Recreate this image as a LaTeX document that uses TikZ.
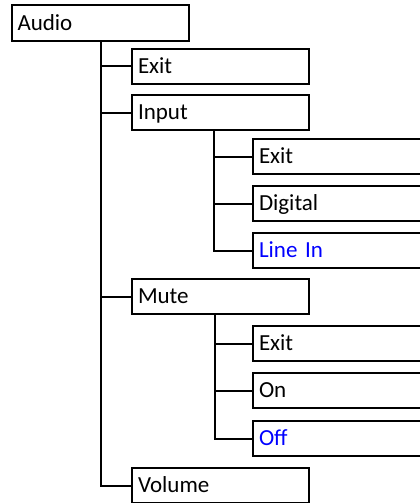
\documentclass[tikz,border=0pt]{standalone}
\usepackage{fontspec}
\setmainfont{Carlito}
\begin{document}
\begin{tikzpicture}[x=1pt,y=-1pt,
  menubox/.style={draw=black, line width=2pt, fill=white, anchor=north west,
    minimum height=35pt, inner xsep=6pt, inner ysep=0pt, align=left,
    text height=14.8pt, text depth=0pt,
    font=\fontsize{23pt}{27pt}\selectfont},
  lvlone/.style={menubox, minimum width=177pt, text width=165pt},
  lvltwo/.style={menubox, minimum width=200pt, text width=188pt},
  sel/.style={text=blue},
  conn/.style={draw=black, line width=2pt}]
\useasboundingbox (0,0) rectangle (420,503);
\clip (0,0) rectangle (420,503);
\fill[white] (0,0) rectangle (420,503);
% root
\node[lvlone, minimum height=36pt] (audio) at (10.5,4) {Audio};
% level 1
\node[lvlone] (exit1) at (131,48) {Exit};
\node[lvlone] (input) at (131,94) {Input};
\node[lvlone] (mute) at (131,278) {Mute};
\node[lvlone] (volume) at (131,467) {Volume};
% level 2 under Input
\node[lvltwo] (exit2) at (252,138) {Exit};
\node[lvltwo] (digital) at (252,185) {Digital};
\node[lvltwo, sel] (linein) at (252,232) {Line In};
% level 2 under Mute
\node[lvltwo] (exit3) at (252,325) {Exit};
\node[lvltwo] (on) at (252,372) {On};
\node[lvltwo, sel] (off) at (252,420) {Off};
% trunks
\coordinate (t0) at ([xshift=90.2pt]audio.south west);
\coordinate (t1) at ([xshift=83pt]input.south west);
\coordinate (t2) at ([xshift=84pt]mute.south west);
\draw[conn] (t0) |- (volume.west);
\draw[conn] (t0 |- exit1.west) -- (exit1.west);
\draw[conn] (t0 |- input.west) -- (input.west);
\draw[conn] (t0 |- mute.west) -- (mute.west);
\draw[conn] (t1) |- (linein.west);
\draw[conn] (t1 |- exit2.west) -- (exit2.west);
\draw[conn] (t1 |- digital.west) -- (digital.west);
\draw[conn] (t2) |- (off.west);
\draw[conn] (t2 |- exit3.west) -- (exit3.west);
\draw[conn] (t2 |- on.west) -- (on.west);
\end{tikzpicture}
\end{document}
